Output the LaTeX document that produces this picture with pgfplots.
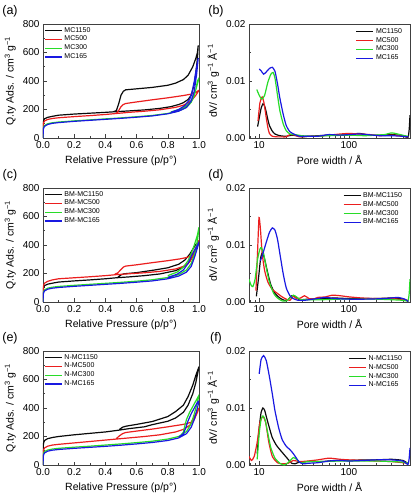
\documentclass[border=0pt]{standalone}
\usepackage{pgfplots}
\pgfplotsset{compat=1.18}
\usepackage{fontspec}
\setmainfont{Liberation Sans}
\definecolor{cblk}{RGB}{10,10,10}
\definecolor{cred}{RGB}{235,30,30}
\definecolor{cgrn}{RGB}{40,220,40}
\definecolor{cblu}{RGB}{25,25,225}
\pgfplotsset{
  base/.style={scale only axis, height=114pt,
    axis line style={line width=0.8pt, black!75},
    every tick/.style={black!75, line width=0.6pt},
    major tick length=3.5pt, minor tick length=2pt,
    tick pos=left, tick align=inside,
    tick label style={font=\fontsize{10}{12}\selectfont},
    label style={font=\fontsize{10.5}{12}\selectfont},
    /pgf/number format/assume math mode=true,
    legend style={draw=none, fill=none, font=\fontsize{7}{8}\selectfont, inner sep=1pt, row sep=-1.5pt},
    legend cell align=left,
    every axis plot/.append style={line width=1.2pt}},
  iso/.style={base, width=156pt, xmin=0, xmax=1, ymin=0, ymax=800,
    xtick={0,0.2,0.4,0.6,0.8,1.0}, ytick={0,200,400,600,800},
    minor x tick num=1, minor y tick num=1,
    xticklabel style={/pgf/number format/fixed, /pgf/number format/fixed zerofill, /pgf/number format/precision=1},
    xlabel={Relative Pressure (p/p°)},
    ylabel={Q.ty Ads. / cm\textsuperscript{3} g\textsuperscript{−1}},
    legend style={at={(0.0,1.0)}, anchor=north west}},
  psd/.style={base, width=161pt, xmin=7.7, xmax=480, ymin=0, ymax=0.02,
    xtick={10,100}, xticklabels={10,100},
    minor xtick={8,9,20,30,40,50,60,70,80,90,200,300,400},
    ytick={0,0.01,0.02}, yticklabels={0.00,0.01,0.02}, scaled y ticks=false,
    minor y tick num=1,
    xlabel={Pore width / Å},
    ylabel={dV/ cm\textsuperscript{3} g\textsuperscript{−1} Å\textsuperscript{−1}},
    legend style={at={(0.97,0.99)}, anchor=north east}},
}
\begin{document}
\begin{tikzpicture}[x=1pt,y=1pt]
\useasboundingbox (0,0) rectangle (412,500);
\node[font=\fontsize{12.5}{14}\selectfont] at (10,489) {(a)};
\node[font=\fontsize{12.5}{14}\selectfont] at (216,489) {(b)};
\node[font=\fontsize{12.5}{14}\selectfont] at (10,325) {(c)};
\node[font=\fontsize{12.5}{14}\selectfont] at (216,325) {(d)};
\node[font=\fontsize{12.5}{14}\selectfont] at (10,162) {(e)};
\node[font=\fontsize{12.5}{14}\selectfont] at (216,162) {(f)};

% ---------- (a)
\begin{axis}[iso, at={(43pt,362pt)}, anchor=south west]
\addplot[cblk] coordinates {(0,0) (0.002,110) (0.005,125) (0.01,135) (0.03,145) (0.06,152) (0.1,160) (0.2,168) (0.3,174) (0.4,180) (0.47,185) (0.55,190) (0.65,197) (0.75,208) (0.82,220) (0.87,235) (0.9,248) (0.93,270) (0.95,300) (0.97,380) (0.98,460) (0.99,560) (0.995,650)
 (0.99,600) (0.98,560) (0.96,500) (0.93,440) (0.9,410) (0.85,385) (0.8,370) (0.7,355) (0.6,345) (0.53,338) (0.515,328) (0.5,300) (0.485,240) (0.47,192) (0.45,184)};
\addplot[cred] coordinates {(0,0) (0.002,95) (0.005,110) (0.01,120) (0.03,130) (0.06,137) (0.1,142) (0.2,150) (0.3,157) (0.4,165) (0.47,172) (0.55,180) (0.65,188) (0.75,198) (0.85,215) (0.9,230) (0.95,260) (0.98,300) (1.0,335)
 (0.98,320) (0.95,308) (0.9,298) (0.8,282) (0.7,268) (0.6,253) (0.53,242) (0.515,235) (0.5,220) (0.485,192) (0.47,174)};
\addplot[cgrn] coordinates {(0,0) (0.002,65) (0.005,78) (0.01,88) (0.03,100) (0.06,107) (0.1,112) (0.2,120) (0.3,127) (0.4,134) (0.5,141) (0.6,149) (0.7,158) (0.8,172) (0.87,190) (0.92,215) (0.95,250) (0.97,300) (0.99,380) (1.0,420)
 (0.99,400) (0.98,340) (0.96,280) (0.94,245) (0.91,220) (0.87,200) (0.82,182)};
\addplot[cblu] coordinates {(0,0) (0.002,60) (0.005,72) (0.01,82) (0.03,95) (0.06,103) (0.1,108) (0.2,117) (0.3,124) (0.4,131) (0.5,138) (0.6,146) (0.7,155) (0.8,170) (0.87,188) (0.92,215) (0.95,260) (0.97,330) (0.985,450) (0.995,560)
 (0.985,500) (0.97,400) (0.955,320) (0.94,270) (0.91,228) (0.87,200) (0.82,180)};
\legend{MC1150,MC500,MC300,MC165}
\end{axis}

% ---------- (b)
\begin{semilogxaxis}[psd, at={(249pt,362pt)}, anchor=south west]
\addplot[cblk, smooth, tension=0.35] coordinates {(9.6,0.002) (10,0.0035) (10.5,0.0052) (11,0.006) (11.5,0.0056) (12,0.0045) (12.5,0.0032) (13,0.0022) (14,0.0012) (15,0.0007) (17,0.0004) (20,0.0003) (23,0.0005) (26,0.0004) (30,0.0002) (35,0.0003) (45,0.0004) (60,0.0005) (80,0.0005) (100,0.0006) (130,0.0008) (170,0.0005) (220,0.0005) (300,0.0006) (400,0.0004) (455,0.0001) (470,0.0015) (480,0.004)};
\addplot[cred, smooth, tension=0.35] coordinates {(9.7,0.003) (10.2,0.0062) (10.8,0.0072) (11.3,0.0062) (12,0.0035) (12.5,0.0018) (13,0.0008) (14,0.0003) (16,0.0002) (18,0.0002) (20,0.0002) (22,0.0006) (25,0.0005) (28,0.0002) (35,0.0003) (45,0.0003) (60,0.0005) (80,0.0007) (100,0.0008) (130,0.0007) (170,0.0006) (220,0.0004) (300,0.0005) (400,0.0003) (460,0.0002)};
\addplot[cgrn, smooth, tension=0.35] coordinates {(9.4,0.0085) (10,0.0075) (10.7,0.0068) (11.5,0.0075) (12.5,0.0098) (13.5,0.0112) (14.3,0.0115) (15,0.0105) (16,0.0075) (17,0.0048) (18.5,0.0025) (20,0.0013) (22,0.0007) (25,0.0006) (30,0.0004) (40,0.0003) (60,0.0004) (100,0.0005) (150,0.0004) (200,0.0005) (250,0.0006) (300,0.0009) (350,0.0007) (420,0.0004) (460,0.0003)};
\addplot[cblu, smooth, tension=0.35] coordinates {(10,0.0121) (10.5,0.0118) (11.2,0.0112) (12,0.0116) (13,0.0122) (14,0.0124) (15,0.0117) (16,0.0095) (17,0.007) (18.5,0.0042) (20,0.0022) (22,0.0011) (25,0.0006) (28,0.0003) (35,0.0003) (45,0.0003) (60,0.0006) (80,0.0005) (100,0.0006) (130,0.0007) (160,0.0006) (220,0.0004) (300,0.0004) (400,0.0003) (460,0.0002)};
\legend{MC1150,MC500,MC300,MC165}
\end{semilogxaxis}

% ---------- (c)
\begin{axis}[iso, at={(43pt,198pt)}, anchor=south west]
\addplot[cblk] coordinates {(0,0) (0.002,90) (0.005,105) (0.01,115) (0.03,125) (0.06,132) (0.1,140) (0.2,148) (0.3,155) (0.4,163) (0.47,170) (0.55,176) (0.65,185) (0.75,197) (0.85,220) (0.9,245) (0.93,270) (0.96,320) (0.98,370) (1.0,420)
 (0.98,405) (0.96,370) (0.94,335) (0.91,295) (0.87,265) (0.8,240) (0.7,222) (0.6,206) (0.52,198) (0.5,190) (0.48,175)};
\addplot[cred] coordinates {(0,0) (0.002,105) (0.005,120) (0.01,132) (0.03,145) (0.06,155) (0.1,163) (0.2,170) (0.3,177) (0.4,185) (0.47,192) (0.55,198) (0.65,205) (0.75,215) (0.85,232) (0.9,250) (0.94,280) (0.97,340) (0.99,400) (1.0,435)
 (0.98,380) (0.95,325) (0.92,312) (0.88,303) (0.8,290) (0.7,276) (0.6,261) (0.53,252) (0.515,245) (0.5,228) (0.48,205) (0.46,195)};
\addplot[cgrn] coordinates {(0,0) (0.002,60) (0.005,75) (0.01,85) (0.03,97) (0.06,104) (0.1,109) (0.2,117) (0.3,124) (0.4,131) (0.5,138) (0.6,146) (0.7,156) (0.8,172) (0.87,192) (0.92,225) (0.95,270) (0.97,330) (0.99,430) (1.0,525)
 (0.99,470) (0.97,400) (0.95,340) (0.93,290) (0.9,245) (0.86,210) (0.8,185)};
\addplot[cblu] coordinates {(0,0) (0.002,55) (0.005,68) (0.01,78) (0.03,90) (0.06,97) (0.1,102) (0.2,110) (0.3,117) (0.4,124) (0.5,131) (0.6,139) (0.7,148) (0.8,163) (0.87,182) (0.92,210) (0.95,250) (0.97,310) (0.99,380) (1.0,420)
 (0.99,400) (0.97,360) (0.95,320) (0.93,270) (0.9,225) (0.86,195) (0.8,172)};
\legend{BM-MC1150,BM-MC500,BM-MC300,BM-MC165}
\end{axis}

% ---------- (d)
\begin{semilogxaxis}[psd, at={(249pt,198pt)}, anchor=south west]
\addplot[cblk, smooth, tension=0.35] coordinates {(9.3,0.001) (9.8,0.004) (10.4,0.0078) (10.9,0.0087) (11.5,0.0075) (12.5,0.005) (13.5,0.003) (15,0.0015) (17,0.0007) (19,0.0003) (21,0.0004) (23,0.0011) (25,0.001) (28,0.0004) (35,0.0005) (50,0.0006) (70,0.0007) (100,0.0006) (150,0.0006) (200,0.0006) (300,0.0007) (400,0.0005) (460,0.0001)};
\addplot[cred, smooth, tension=0.35] coordinates {(9.2,0.002) (9.6,0.009) (9.95,0.0148) (10.3,0.013) (10.8,0.0085) (11.5,0.0055) (12.5,0.0035) (14,0.0022) (16,0.0015) (18,0.0009) (20,0.0005) (22,0.0003) (24,0.001) (26,0.0006) (29,0.0007) (32,0.0011) (36,0.0006) (40,0.0005) (45,0.0008) (55,0.0009) (65,0.0012) (80,0.0011) (100,0.0009) (140,0.0007) (200,0.0006) (300,0.0006) (400,0.0004) (460,0.0003)};
\addplot[cgrn, smooth, tension=0.35] coordinates {(7.7,0.004) (8.1,0.003) (8.5,0.0027) (9,0.004) (9.6,0.0075) (10.2,0.0093) (10.6,0.0095) (11.2,0.0085) (12,0.006) (13,0.0035) (14.5,0.0015) (16,0.0007) (18,0.0002) (20,0.0002) (22,0.0007) (24,0.0012) (26,0.0009) (29,0.0004) (35,0.0004) (50,0.0004) (80,0.0005) (120,0.0005) (200,0.0005) (300,0.0004) (400,0.0003) (455,0.0002) (470,0.0015) (480,0.004)};
\addplot[cblu, smooth, tension=0.35] coordinates {(10.3,0.0072) (11,0.0085) (12,0.0105) (13,0.0122) (14,0.013) (15,0.0126) (16,0.011) (17,0.0085) (18.5,0.005) (20,0.0025) (22,0.0011) (24,0.0006) (27,0.0003) (32,0.0003) (40,0.0005) (55,0.0008) (70,0.0006) (100,0.0005) (150,0.0005) (250,0.0006) (350,0.0008) (420,0.0005) (460,0.0001)};
\legend{BM-MC1150,BM-MC500,BM-MC300,BM-MC165}
\end{semilogxaxis}

% ---------- (e)
\begin{axis}[iso, at={(43pt,35pt)}, anchor=south west]
\addplot[cblk] coordinates {(0,0) (0.002,140) (0.005,160) (0.01,172) (0.03,185) (0.06,193) (0.1,200) (0.2,212) (0.3,222) (0.4,232) (0.47,242) (0.55,255) (0.65,268) (0.7,283) (0.8,307) (0.85,330) (0.9,370) (0.93,420) (0.96,500) (0.98,580) (1.0,690)
 (0.98,630) (0.96,560) (0.93,480) (0.9,420) (0.85,375) (0.8,340) (0.7,305) (0.6,285) (0.53,272) (0.51,265) (0.49,250)};
\addplot[cred] coordinates {(0,0) (0.002,95) (0.005,110) (0.01,120) (0.03,132) (0.06,140) (0.1,145) (0.2,155) (0.3,165) (0.4,175) (0.47,182) (0.55,190) (0.65,200) (0.75,212) (0.85,232) (0.9,250) (0.94,278) (0.97,320) (0.99,370) (1.0,400)
 (0.98,360) (0.95,300) (0.9,285) (0.8,268) (0.7,252) (0.6,238) (0.53,228) (0.51,220) (0.49,205) (0.47,185)};
\addplot[cgrn] coordinates {(0,0) (0.002,70) (0.005,85) (0.01,95) (0.03,105) (0.06,112) (0.1,117) (0.2,125) (0.3,132) (0.4,140) (0.5,148) (0.6,157) (0.7,167) (0.8,182) (0.87,200) (0.92,235) (0.95,290) (0.97,360) (0.99,440) (1.0,490)
 (0.98,450) (0.96,410) (0.94,370) (0.92,320) (0.91,280) (0.9,230) (0.88,205)};
\addplot[cblu] coordinates {(0,0) (0.002,60) (0.005,75) (0.01,85) (0.03,97) (0.06,104) (0.1,109) (0.2,117) (0.3,124) (0.4,131) (0.5,139) (0.6,148) (0.7,158) (0.8,172) (0.87,190) (0.92,220) (0.95,265) (0.97,320) (0.99,400) (1.0,450)
 (0.99,440) (0.97,400) (0.95,360) (0.93,310) (0.915,260) (0.9,220) (0.87,195)};
\legend{N-MC1150,N-MC500,N-MC300,N-MC165}
\end{axis}

% ---------- (f)
\begin{semilogxaxis}[psd, at={(249pt,35pt)}, anchor=south west]
\addplot[cblk, smooth, tension=0.35] coordinates {(9.5,0.002) (10,0.0065) (10.5,0.0092) (11,0.01) (11.5,0.0096) (12,0.0085) (13,0.0065) (14,0.0048) (15.5,0.0035) (17,0.0027) (19,0.0018) (21,0.001) (23,0.0003) (25,0.0002) (28,0.0005) (35,0.0006) (50,0.0006) (70,0.0008) (100,0.0008) (150,0.0009) (200,0.0009) (300,0.001) (400,0.0008) (460,0.0002)};
\addplot[cred, smooth, tension=0.35] coordinates {(7.7,0.0015) (8.2,0.0008) (8.8,0.0015) (9.5,0.004) (10.2,0.0075) (11,0.0085) (11.8,0.0075) (12.8,0.004) (14,0.0015) (16,0.0004) (18,0.0002) (21,0.0003) (24,0.0008) (28,0.0006) (35,0.0007) (45,0.0009) (60,0.0012) (80,0.001) (100,0.0009) (150,0.0008) (200,0.0007) (300,0.0006) (400,0.0004) (460,0.0003)};
\addplot[cgrn, smooth, tension=0.35] coordinates {(9.5,0.001) (10,0.0055) (10.5,0.008) (11,0.0086) (11.6,0.008) (12.5,0.0055) (13.5,0.003) (15,0.0012) (17,0.0003) (19,0.0) (21,0.0004) (24,0.0013) (26,0.001) (29,0.0004) (35,0.0006) (50,0.0006) (80,0.0007) (120,0.0007) (200,0.0007) (300,0.0006) (400,0.0005) (460,0.0003)};
\addplot[cblu, smooth, tension=0.35] coordinates {(10,0.016) (10.5,0.0185) (11.2,0.0192) (12,0.0183) (13,0.0155) (14,0.0125) (15,0.0095) (16.5,0.0065) (18,0.0045) (20,0.0033) (22,0.0027) (24,0.002) (26,0.0012) (28,0.0005) (31,0.0002) (35,0.0003) (45,0.0004) (60,0.0007) (80,0.0008) (100,0.0007) (150,0.0008) (200,0.0009) (300,0.0009) (400,0.0007) (455,0.0001) (470,0.0012) (480,0.003)};
\legend{N-MC1150,N-MC500,N-MC300,N-MC165}
\end{semilogxaxis}
\end{tikzpicture}
\end{document}
